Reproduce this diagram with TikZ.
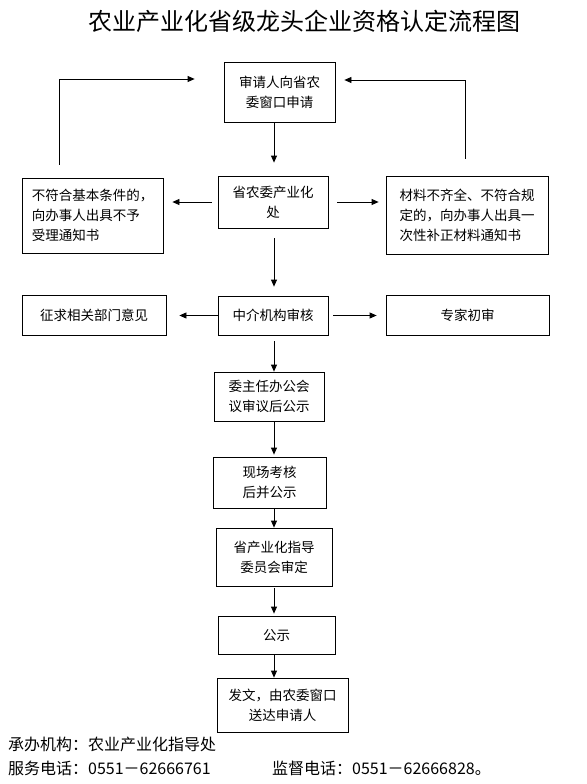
\documentclass[tikz,border=0pt]{standalone}
\usepackage{fontspec}
\setmainfont{Noto Sans CJK SC}
\usetikzlibrary{arrows.meta}

\tikzset{
  box/.style={draw, line width=0.8pt, inner sep=0pt, align=center,
    font=\fontsize{13.5}{20}\selectfont},
  arr/.style={-{Triangle[length=7pt,width=6pt]}, line width=0.8pt},
  foot/.style={anchor=west, inner sep=0pt, font=\fontsize{16}{20}\selectfont},
}

\begin{document}
\begin{tikzpicture}[x=1pt,y=-1pt]
    \useasboundingbox (0,0) rectangle (586,784);

    % Title
    \node[font=\fontsize{24}{28}\selectfont] (title) at (304,21) {农业产业化省级龙头企业资格认定流程图};

    % Application
    \node[box, minimum width=111pt, minimum height=60pt] (apply) at (279.5,92) {审请人向省农\\委窗口申请};

    % Department and the two notices
    \node[box, minimum width=110pt, minimum height=52pt] (dept) at (273,202) {省农委产业化\\处};
    \node[box, align=left, minimum width=141pt, minimum height=75pt] (reject) at (92.5,215.5)
        {不符合基本条件的，\\向办事人出具不予\\受理通知书};
    \node[box, align=left, minimum width=162pt, minimum height=78pt] (supply) at (467,215)
        {材料不齐全、不符合规\\定的，向办事人出具一\\次性补正材料通知书};

    % Agency review row
    \node[box, minimum width=110pt, minimum height=39pt] (agency) at (273,315.5) {中介机构审核};
    \node[box, minimum width=144pt, minimum height=40pt] (consult) at (94,315) {征求相关部门意见};
    \node[box, minimum width=163pt, minimum height=40pt] (expert) at (467.5,315) {专家初审};

    % Main chain
    \node[box, minimum width=110pt, minimum height=49pt] (meeting) at (269,396.5) {委主任办公会\\议审议后公示};
    \node[box, minimum width=113pt, minimum height=51pt] (inspect) at (269.5,482.5) {现场考核\\后并公示};
    \node[box, minimum width=116pt, minimum height=58pt] (review) at (274,557) {省产业化指导\\委员会审定};
    \node[box, minimum width=117pt, minimum height=38pt] (notice) at (276.5,635) {公示};
    \node[box, minimum width=131pt, minimum height=54pt] (issue) at (282.5,705) {发文，由农委窗口\\送达申请人};

    % Connections
    \coordinate (axis) at (274,0);
    \coordinate (backL) at (59,79);
    \coordinate (backR) at (465,80);
    \draw[arr, shorten >=13pt] (apply.south -| axis) -- (dept.north -| axis);
    \draw[arr, shorten <=6pt, shorten >=9pt] (dept.west) -- (reject.east |- dept.west);
    \draw[arr, shorten <=9pt, shorten >=7pt] (dept.east) -- (supply.west |- dept.east);
    \draw[arr, shorten <=13pt, shorten >=29pt] (reject.north -| backL) -- (backL) -- (apply.west |- backL);
    \draw[arr, shorten <=17pt, shorten >=9pt] (supply.north -| backR) -- (backR) -- (apply.east |- backR);
    \draw[arr, shorten <=10pt, shorten >=9pt] (dept.south -| axis) -- (agency.north -| axis);
    \draw[arr, shorten >=13pt] (agency.west) -- (consult.east |- agency.west);
    \draw[arr, shorten <=5pt, shorten >=9pt] (agency.east) -- (expert.west |- agency.east);
    \draw[arr, shorten <=6pt] (agency.south -| axis) -- (meeting.north -| axis);
    \draw[arr, shorten >=2pt] (meeting.south -| axis) -- (inspect.north -| axis);
    \draw[arr] (inspect.south -| axis) -- (review.north -| axis);
    \draw[arr, shorten <=2pt, shorten >=2pt] (review.south -| axis) -- (notice.north -| axis);
    \draw[arr] (notice.south -| axis) -- (issue.north -| axis);

    % Footer
    \node[foot] (office) at (8,744) {承办机构：农业产业化指导处};
    \node[foot] (phone) at (8,768) {服务电话：0551－62666761};
    \node[foot] (watch) at (272,768) {监督电话：0551－62666828。};
\end{tikzpicture}
\end{document}
